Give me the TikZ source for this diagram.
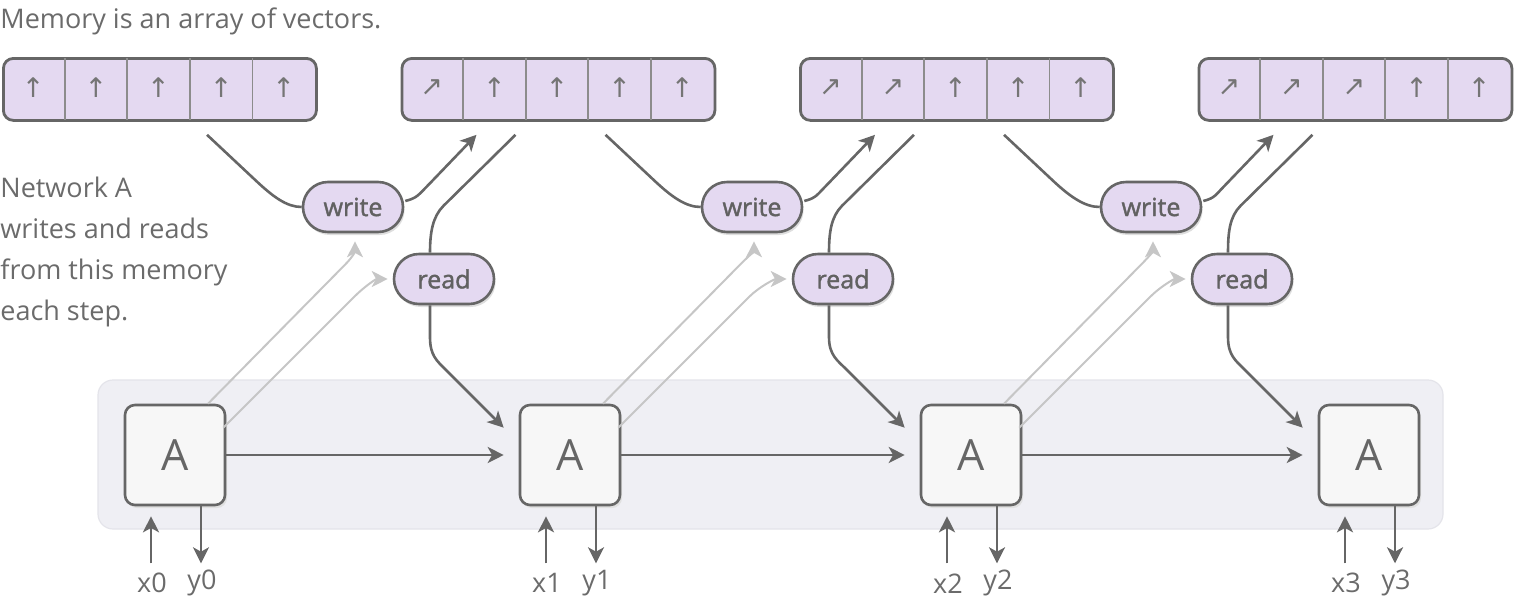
\documentclass[tikz,border=0pt]{standalone}
\usepackage{fontspec}
\setmainfont{Open Sans}
\newfontfamily\arrowfont{DejaVu Sans}
\newfontfamily\tagfont[FakeBold=1.5]{Open Sans}
\usetikzlibrary{positioning,calc,arrows.meta,shadows}
\definecolor{ink}{HTML}{666666}
\definecolor{textgray}{HTML}{6B6B6B}
\definecolor{ghostgray}{HTML}{C6C6C6}
\definecolor{memfill}{HTML}{E4D9F1}
\definecolor{boxfill}{HTML}{F7F7F7}
\definecolor{bgfill}{HTML}{EFEFF4}
\definecolor{bgdraw}{HTML}{E4E4EA}
\definecolor{divider}{HTML}{8C8C8C}

\begin{document}
\begin{tikzpicture}[x=0.5pt,y=-0.5pt,font=\fontsize{13.5}{20.5}\selectfont,
    link/.style={draw=ink,line width=1.3pt},
    ghost/.style={draw=ghostgray,line width=1pt},
    tip/.style={-{Stealth[length=8pt,width=8pt,inset=2.2pt]}},
    membox/.style={draw=ink,line width=1.4pt,fill=memfill,rounded corners=5pt,
        minimum width=156.5pt,minimum height=31pt,inner sep=0pt,anchor=north west},
    cellmark/.style={font=\arrowfont\fontsize{13.5}{13.5}\selectfont,text=ink!90,inner sep=0pt},
    opbox/.style={draw=ink,line width=1.3pt,fill=memfill,rounded corners=12.5pt,
        minimum width=50pt,minimum height=25pt,inner sep=0pt,text=ink!95!black,
        font=\tagfont\fontsize{12.5}{14}\selectfont,
        drop shadow={shadow xshift=0.8pt,shadow yshift=-1.5pt,fill=black!13,opacity=1}},
    abox/.style={draw=ink,line width=1.3pt,fill=boxfill,rounded corners=5pt,
        minimum size=50pt,inner sep=0pt,text=ink,font=\fontsize{21.5}{21.5}\selectfont,
        drop shadow={shadow xshift=1pt,shadow yshift=-1.5pt,fill=black!12,opacity=1}},
    iolabel/.style={text=textgray,inner sep=0pt}]
\useasboundingbox (0,0) rectangle (1518,600);
\draw[fill=bgfill,draw=bgdraw,line width=0.6pt,rounded corners=7.5pt] (98,380) rectangle (1443,529);

\node (title) [anchor=base west,inner sep=0pt,text=textgray] at (0,28) {Memory is an array of vectors.};
\node (note) [anchor=north west,align=left,inner sep=0pt,text=textgray] at (0,177)
    {Network A\\writes and reads\\from this memory\\each step.};

% memory rows
\foreach \i in {0,...,3}{
    \node (mem\i) [membox] at (2+398.5*\i,57) {};
    \foreach \j in {1,...,4}
        \draw[divider,line width=0.9pt,shorten <=0.7pt,shorten >=0.7pt]
            ($(mem\i.north west)+(62.6*\j,0)$) -- ($(mem\i.south west)+(62.6*\j,0)$);
    \foreach \j in {0,...,4}
        \node (cell\i\j) [cellmark] at ($(mem\i.north west)+(31.3+62.6*\j,31)$)
            {\ifnum\j<\i\relax ↗\else ↑\fi};
    \coordinate (mem\i-w) at ($(mem\i.south west)+(205,13)$);
    \coordinate (mem\i-a) at ($(mem\i.south west)+(76,13)$);
    \coordinate (mem\i-r) at ($(mem\i.south west)+(115,13)$);
}

% network steps
\foreach \i/\x in {0/175,1/570,2/971,3/1369}{
    \node (A\i) [abox] at (\x,455) {A};
    \node (x\i) [iolabel] at ($(A\i.south)+(-23,77)$) {x\i};
    \node (y\i) [iolabel] at ($(A\i.south)+(27,77)$) {y\i};
    \draw[link,tip] ($(A\i.south)+(-24,57)$) -- ($(A\i.south)+(-24,10)$);
    \draw[link,tip] ($(A\i.south)+(26,0)$) -- ($(A\i.south)+(26,57)$);
}
\foreach \i in {0,1,2}{
    \node (w\i) [opbox] at (353+399*\i,207) {write};
    \node (r\i) [opbox] at (444+399*\i,279) {read};
}

\foreach \i/\j in {0/1,1/2,2/3}{
    \draw[link,tip] (A\i.east) -- ($(A\j.west)+(-15,0)$);
    % write
    \draw[link] (mem\i-w) -- ++(48,45) .. controls +(18,17) and +(-15,0) .. (w\i.west);
    \draw[link,tip] ($(w\i.east)+(1,-6)$) .. controls +(12,-3) and +(-10,10)
        .. ($(mem\j-a)+(-48,50)$) -- (mem\j-a);
    % read
    \draw[link] (mem\j-r) -- ++(-72,71) .. controls +(-11,11) and +(0,-20)
        .. ($(r\i.north)+(-14,0)$);
    \draw[link,tip] ($(r\i.south)+(-14,0)$) -- ++(0,32) .. controls +(0,18) and +(-9,-9)
        .. ($(A\j.north west)+(-73,-34)$) -- ($(A\j.north west)+(-15,24)$);
    % controller signals
    \draw[ghost,tip] ($(A\i.north)+(33,0)$) -- ++(137,-139) .. controls +(8,-8) and +(0,10)
        .. ($(w\i.south)+(2,8)$);
    \draw[ghost,tip] ($(A\i.north east)+(-3,24)$) -- ++(131,-131) .. controls +(10,-10) and +(-12,0)
        .. ($(r\i.west)+(-5,0)$);
}
\end{tikzpicture}
\end{document}
